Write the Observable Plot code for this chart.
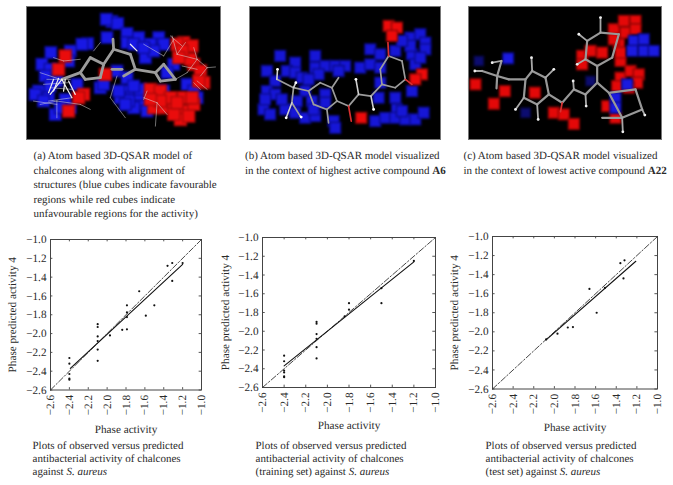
<!DOCTYPE html>
<html><head><meta charset="utf-8">
<script src="https://cdn.jsdelivr.net/npm/d3@7"></script>
<script src="https://cdn.jsdelivr.net/npm/@observablehq/plot@0.6"></script>
<style>
html,body{margin:0;padding:0;background:#fff}
*{text-rendering:geometricPrecision}
#page{position:relative;width:673px;height:485px;overflow:hidden;font-family:"Liberation Serif",serif;color:#2a2a2a}
.cap{position:absolute;font-size:11px;line-height:14.6px;white-space:nowrap}
.cap.low{font-size:11px;line-height:13px}
.box{position:absolute}
.box svg{display:block;overflow:visible}
</style></head><body><div id="page"></div>
<script>
// Scatter values
const allObserved=[-2.4,-2.4,-2.4,-2.4,-2.4,-2.1,-2.1,-2.1,-2.1,-2.1,-2.1,-1.97,-1.84,-1.79,-1.79,-1.79,-1.79,-1.66,-1.59,-1.5,-1.36,-1.31,-1.31,-1.2];
const allPredicted=[-2.26,-2.32,-2.43,-2.48,-2.49,-1.90,-1.93,-2.03,-2.08,-2.17,-2.29,-2.02,-1.96,-1.955,-1.70,-1.775,-1.825,-1.55,-1.81,-1.70,-1.28,-1.25,-1.44,-1.25];
const trainObserved=[-2.4,-2.4,-2.4,-2.4,-2.4,-2.4,-2.1,-2.1,-2.1,-2.1,-2.1,-2.1,-1.8,-1.8,-1.84,-1.5,-1.5,-1.2];
const trainPredicted=[-2.26,-2.32,-2.42,-2.44,-2.48,-2.49,-1.90,-1.92,-2.03,-2.08,-2.17,-2.29,-1.70,-1.77,-1.84,-1.70,-1.54,-1.25];
const testObserved=[-2.08,-1.97,-1.87,-1.82,-1.66,-1.59,-1.51,-1.36,-1.32,-1.33];
const testPredicted=[-2.08,-2.02,-1.955,-1.95,-1.55,-1.80,-1.54,-1.28,-1.25,-1.44];
const axisTicks=[-2.6,-2.4,-2.2,-2.0,-1.8,-1.6,-1.4,-1.2,-1.0];
const fitAll=[[-2.39,-2.37],[-1.2,-1.265]];
const fitTrain=[[-2.4,-2.37],[-1.2,-1.26]];
const fitTest=[[-2.08,-2.085],[-1.21,-1.26]];
const unity=[[-2.6,-2.6],[-1.0,-1.0]];

// Molecule panel readings: [across, down]
const cubesBlueA=[[335,62],[318,55],[352,68],[380,98],[415,110],[475,110],[450,130],[490,130],[320,110],[262,128],[245,130],[380,125],[435,170],[460,150],[152,155],[210,150],[125,190],[150,205],[135,225],[115,270],[105,280],[145,290],[130,300],[165,340],[210,320],[205,180],[300,260],[310,250],[390,280],[370,270],[420,310],[400,320],[360,290],[490,270],[520,190],[560,250],[580,270],[350,210],[380,230],[415,280],[590,290],[385,300],[440,330],[170,240],[150,255],[230,250],[195,295],[420,265],[400,255],[375,310],[355,270],[180,320],[400,130],[430,140],[500,215]];
const cubesRedA=[[195,165],[175,205],[250,280],[205,330],[315,220],[235,290],[450,265],[480,270],[460,320],[490,320],[520,320],[550,330],[580,310],[540,355],[510,290],[550,290],[520,340],[575,290],[550,125],[530,130],[575,135],[580,190],[600,210],[610,245],[570,175],[545,150],[535,170],[595,240],[480,300],[530,305],[565,345],[450,295]];
const bondsA=[[185,235,240,215],[240,215,270,170],[270,170,310,190],[310,190,300,230],[300,230,255,235],[255,235,240,215],[310,190,340,145],[340,145,338,115],[340,145,390,160],[390,160,405,205],[405,205,465,215],[465,215,490,190],[490,190,525,235],[525,235,480,240],[480,240,465,215],[405,205,370,225],[335,205,365,205]];
const tuftsA=[[185,235,215,290],[160,235,145,275],[185,235,150,280],[195,235,190,270],[175,232,160,270],[205,240,225,280],[390,130,410,150]];
const wiresA=[[530,160,590,175],[590,175,620,200],[620,200,645,198],[590,175,560,215],[530,160,515,105],[560,215,525,235],[140,235,210,235],[130,250,205,245],[150,260,215,265],[120,310,170,300],[170,300,170,350],[170,300,240,310],[240,310,270,325],[350,225,330,290],[330,290,375,350],[430,290,470,305],[470,305,465,375],[470,305,500,340],[160,170,190,180],[190,180,240,175],[580,245,600,265],[620,265,590,240],[530,160,555,125],[590,175,580,140],[545,195,590,205],[145,300,215,290],[100,300,170,310],[510,105,545,135],[430,130,490,165],[490,165,520,115],[120,215,180,235],[280,150,300,125],[440,270,430,295],[620,200,600,225]];
const cubesBlueB=[[165,165],[125,210],[270,165],[210,185],[185,210],[150,240],[125,270],[115,325],[135,340],[180,325],[210,215],[230,230],[270,200],[300,195],[330,195],[360,195],[405,200],[435,145],[465,160],[435,190],[465,200],[465,245],[460,290],[240,270],[260,300],[300,280],[210,335],[240,350],[270,345],[325,360],[330,380],[555,110],[585,100],[600,125],[560,160],[600,145],[570,190],[560,270],[510,290],[515,325],[450,360],[480,350],[510,350],[540,355],[570,355],[595,335],[530,330],[150,280],[510,150],[280,220],[340,210],[250,235],[120,295],[170,295],[215,300],[300,305],[265,325],[555,135],[585,170],[530,120]];
const cubesRedB=[[490,75],[515,80],[500,105],[590,220],[570,235],[408,350]];
const bondsB=[[320,260,335,300],[335,300,305,325],[305,325,265,310],[265,310,250,270],[250,270,285,245],[285,245,320,260],[335,300,370,315],[370,315,400,280],[400,280,437,285],[437,285,470,250],[470,250,510,260],[510,260,540,235],[540,235,530,180],[530,180,490,165],[490,165,465,205],[465,205,470,250],[250,270,205,260],[205,260,200,305],[200,305,225,345],[205,260,155,235],[320,260,340,230],[305,325,310,365]];
const tipsWhiteB=[[400,280,392,235],[437,285,445,325],[205,260,212,245],[200,305,183,350],[225,345,228,348],[155,235,157,205]];
const tipsRedB=[[370,315,378,360],[490,165,488,125],[540,235,560,250]];
const cubesRedC=[[80,250],[135,308],[168,270],[315,335],[345,340],[375,368],[258,275],[400,165],[425,150],[460,155],[495,85],[525,60],[560,60],[510,130],[515,180],[515,230],[545,210],[570,220],[565,245],[475,315],[500,350],[540,260],[495,115],[530,95],[400,190],[515,155],[505,255],[560,85]];
const cubesBlueC=[[555,120],[585,115],[585,150],[615,150],[550,150],[178,172],[500,290],[500,320],[535,250]];
const cubesNavyC=[[90,180],[230,335],[425,240]];
const bondsC=[[230,235,250,210],[250,210,290,230],[290,230,300,280],[300,280,265,310],[265,310,225,290],[225,290,230,235],[300,280,340,305],[340,305,375,265],[375,265,410,280],[410,280,445,245],[445,245,480,275],[480,275,520,350],[520,350,580,325],[580,325,560,265],[560,265,485,275],[445,245,445,195],[445,195,490,170],[490,170,510,100],[510,100,455,95],[455,95,415,120],[415,120,410,175],[410,175,445,195],[230,235,180,235],[180,235,145,225],[145,225,100,210],[145,225,158,180],[145,225,143,262],[520,350,460,350]];
const tipsWhiteC=[[455,95,455,50],[415,120,390,100],[410,175,385,190],[100,210,78,210],[158,180,130,185],[225,290,200,325],[265,310,268,355],[250,210,248,170],[290,230,315,205],[375,265,373,240],[410,280,412,315],[520,350,522,392],[580,325,588,342]];
const tipsRedC=[[340,305,335,332]];

const page=document.getElementById("page");
function place(node,left,top){const d=document.createElement("div");d.className="box";d.style.left=left+"px";d.style.top=top+"px";d.append(node);page.append(d);}
function caption(left,top,html,cls){const d=document.createElement("div");d.className="cap "+(cls||"");d.style.left=left+"px";d.style.top=top+"px";d.innerHTML=html;page.append(d);}
const pt=a=>a.map(([x,y])=>({x,y}));
const seg=a=>a.map(([x1,y1,x2,y2])=>({x1,y1,x2,y2}));
const num=d=>d3.format(".1f")(d).replace("-","\u2212");

function cubes(list,fill,edge,r,blur){
  return Plot.dot(pt(list),{x:"x",y:"y",symbol:"square",r,fill,stroke:edge,strokeWidth:1.3,imageFilter:`blur(${blur}px)`});
}
function links(list,stroke,w,op=1){
  return Plot.link(seg(list),{x1:"x1",y1:"y1",x2:"x2",y2:"y2",stroke,strokeWidth:w,strokeOpacity:op,strokeLinecap:"round",imageFilter:"blur(0.35px)"});
}
function tipDots(list,fill){
  return Plot.dot(seg(list),{x:"x2",y:"y2",r:1.4,fill,imageFilter:"blur(0.3px)"});
}
function panel(domX,domY,marks,w,h,left,top){
  const p=Plot.plot({width:w,height:h,margin:0,x:{domain:domX,axis:null},y:{domain:domY,axis:null},
    style:{background:"#000",outline:"1px solid #777"},marks});
  place(p,left,top);
}
panel([82,660],[415,20],[
  cubes(cubesBlueA,"#1818e4","#0a0a96",6.6,0.8),
  cubes(cubesRedA,"#ea0c0c","#a80808",6.8,0.8),
  links(wiresA,"#dcdcdc",0.6,0.85),
  links(bondsA,"#9c9c9c",2.8),
  links(tuftsA,"#f0f0f0",1.2)
],193,132,27,7);
panel([76,644],[415,20],[
  cubes(cubesBlueB,"#1616d6","#0a0a88",6.2,0.8),
  cubes(cubesRedB,"#ee0a0a","#8a0606",6.2,0.8),
  links(bondsB,"#9c9c9c",1.7),
  links(tipsWhiteB,"#d0d0d0",1.6),
  tipDots(tipsWhiteB,"#ffffff"),
  links(tipsRedB,"#d83030",1.7)
],189.5,132,250,7);
panel([62,638],[415,20],[
  cubes(cubesRedC,"#e40808","#8c0404",6.2,0.8),
  cubes(cubesBlueC,"#1a1ae0","#08087c",6.2,0.8),
  cubes(cubesNavyC,"#0c0c70","#060640",5.4,0.8),
  links(bondsC,"#989898",2.2),
  links(tipsWhiteC,"#a8a8a8",1.8),
  tipDots(tipsWhiteC,"#eeeeee"),
  links(tipsRedC,"#d83030",1.7)
],192,132,469,7);

const tk=0.025;
function scatter(xs,ys,fit,frameLeft,frameRight,frameTop,frameBottom,left,yLabelX,xLabelY){
  const ml=frameLeft-left,w=frameRight-left+10,mb=60,mt=8,h=frameBottom-frameTop+mb+mt;
  const data=xs.map((x,i)=>({x,y:ys[i]}));
  const p=Plot.plot({
    width:w,height:h,marginLeft:ml,marginRight:10,marginTop:mt,marginBottom:mb,
    style:{fontFamily:"'Liberation Serif',serif",fontSize:"11.2px",color:"#2a2a2a",background:"transparent"},
    x:{domain:[-2.6,-1.0],axis:null},y:{domain:[-2.6,-1.0],axis:null},
    marks:[
      Plot.ruleX(axisTicks,{x:d=>d,y1:()=>-2.6,y2:()=>-2.6+tk,stroke:"#555"}),
      Plot.ruleX(axisTicks,{x:d=>d,y1:()=>-1.0,y2:()=>-1.0-tk,stroke:"#555"}),
      Plot.ruleY(axisTicks,{y:d=>d,x1:()=>-2.6,x2:()=>-2.6+tk,stroke:"#555"}),
      Plot.ruleY(axisTicks,{y:d=>d,x1:()=>-1.0,x2:()=>-1.0-tk,stroke:"#555"}),
      Plot.text(axisTicks,{x:d=>d,y:()=>-2.6,text:num,rotate:-90,textAnchor:"end",dy:5,fill:"#2a2a2a"}),
      Plot.text(axisTicks,{y:d=>d,x:()=>-2.6,text:num,textAnchor:"end",dx:-4,fill:"#2a2a2a"}),
      Plot.text(["Phase activity"],{frameAnchor:"bottom",textAnchor:"middle",lineAnchor:"middle",dy:xLabelY-frameBottom,fill:"#2a2a2a"}),
      Plot.text(["Phase predicted activity 4"],{frameAnchor:"left",textAnchor:"middle",lineAnchor:"middle",rotate:-90,dx:yLabelX-frameLeft,fill:"#2a2a2a"}),
      Plot.frame({stroke:"#444",strokeWidth:1}),
      Plot.line(unity,{x:d=>d[0],y:d=>d[1],stroke:"#333",strokeWidth:0.9,strokeDasharray:"6 2 1.5 2"}),
      Plot.line(fit,{x:d=>d[0],y:d=>d[1],stroke:"#111",strokeWidth:1.1}),
      Plot.dot(data,{x:"x",y:"y",r:1.1,fill:"#111"})
    ]});
  place(p,left,frameTop-mt);
}
scatter(allObserved,allPredicted,fitAll,50,201,238.5,389,0,12,428);
scatter(trainObserved,trainPredicted,fitTrain,262,435,237,387,215,224.5,425);
scatter(testObserved,testPredicted,fitTest,492,657,236,388.5,445,454,427);

caption(33.5,149,"(a) Atom based 3D-QSAR model of<br>chalcones along with alignment of<br>structures (blue cubes indicate favourable<br>regions while red cubes indicate<br>unfavourable regions for the activity)");
caption(245,149,"(b) Atom based 3D-QSAR model visualized<br>in the context of highest active compound <b>A6</b>");
caption(463.5,149,"(c) Atom based 3D-QSAR model visualized<br>in the context of lowest active compound <b>A22</b>");
caption(32.5,439.5,"Plots of observed versus predicted<br>antibacterial activity of chalcones<br>against <i>S. aureus</i>","low");
caption(255.5,439.5,"Plots of observed versus predicted<br>antibacterial activity of chalcones<br>(training set) against <i>S. aureus</i>","low");
caption(485.5,439.5,"Plots of observed versus predicted<br>antibacterial activity of chalcones<br>(test set) against <i>S. aureus</i>","low");
</script></body></html>
